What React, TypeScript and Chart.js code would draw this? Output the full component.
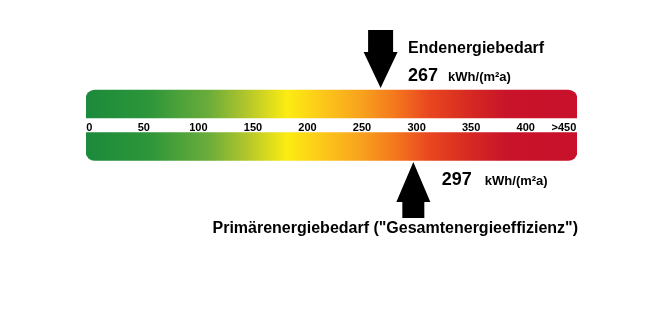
import React, { useEffect, useRef } from "react";
import { Chart, registerables } from "chart.js";

Chart.register(...registerables);

const scaleMin = -3;
const scaleMax = 447;
const bandRows = ["oben", "unten"];
const bandSpan: [number, number] = [scaleMin, scaleMax];
const tickValues = [0, 50, 100, 150, 200, 250, 300, 350, 400, 435];
const tickLabels = ["0", "50", "100", "150", "200", "250", "300", "350", "400", ">450"];
const endenergieValue = 267;
const primaerenergieValue = 297;
const unitLabel = "kWh/(m²a)";
const endLabel = "Endenergiebedarf";
const primLabel = 'Primärenergiebedarf ("Gesamtenergieeffizienz")';
const gradientStops = [0, 0.13, 0.25, 0.33, 0.41, 0.48, 0.56, 0.63, 0.7, 0.78, 0.86, 1];
const gradientColors = [
  "#1b8a3b",
  "#2e963a",
  "#6aad3a",
  "#b5c72a",
  "#fcec12",
  "#fcc91a",
  "#f8a21d",
  "#f4771d",
  "#e9461f",
  "#d62a22",
  "#c8132a",
  "#c8102a",
];

const FONT = "'Liberation Sans', Arial, Helvetica, sans-serif";

const overlayPlugin = {
  id: "energyOverlay",
  afterDatasetsDraw(chart: any) {
    const ctx = chart.ctx as CanvasRenderingContext2D;
    const xs = chart.scales.x;
    const meta = chart.getDatasetMeta(0);
    const top = meta.data[0];
    const bot = meta.data[1];
    const topBarTop = top.y - top.height / 2;
    const topBarBottom = top.y + top.height / 2;
    const botBarTop = bot.y - bot.height / 2;
    const botBarBottom = bot.y + bot.height / 2;
    const bandMid = (topBarBottom + botBarTop) / 2;

    ctx.save();
    // tick labels
    ctx.fillStyle = "#000";
    ctx.font = `bold 11px ${FONT}`;
    ctx.textAlign = "center";
    ctx.textBaseline = "alphabetic";
    tickValues.forEach((v, i) => {
      ctx.fillText(tickLabels[i], xs.getPixelForValue(v), bandMid + 5.5);
    });

    // down arrow (Endenergie)
    const xd = xs.getPixelForValue(endenergieValue);
    const tipD = topBarTop - 2;
    ctx.beginPath();
    ctx.moveTo(xd - 12.5, 30);
    ctx.lineTo(xd + 12.5, 30);
    ctx.lineTo(xd + 12.5, 52);
    ctx.lineTo(xd + 17, 52);
    ctx.lineTo(xd, tipD);
    ctx.lineTo(xd - 17, 52);
    ctx.lineTo(xd - 12.5, 52);
    ctx.closePath();
    ctx.fillStyle = "#000";
    ctx.fill();

    // up arrow (Primärenergie)
    const xu = xs.getPixelForValue(primaerenergieValue);
    const tipU = botBarBottom + 1.5;
    ctx.beginPath();
    ctx.moveTo(xu, tipU);
    ctx.lineTo(xu + 17, 202);
    ctx.lineTo(xu + 11, 202);
    ctx.lineTo(xu + 11, 218);
    ctx.lineTo(xu - 11, 218);
    ctx.lineTo(xu - 11, 202);
    ctx.lineTo(xu - 17, 202);
    ctx.closePath();
    ctx.fill();

    // texts
    ctx.textAlign = "left";
    ctx.font = `bold 16px ${FONT}`;
    ctx.fillText(endLabel, xd + 27.5, 53);
    ctx.font = `bold 18px ${FONT}`;
    ctx.fillText(String(endenergieValue), xd + 27.5, 81);
    ctx.font = `bold 13px ${FONT}`;
    ctx.fillText(unitLabel, xd + 67.5, 81);

    ctx.font = `bold 18px ${FONT}`;
    ctx.fillText(String(primaerenergieValue), xu + 28.5, 185);
    ctx.font = `bold 13px ${FONT}`;
    ctx.fillText(unitLabel, xu + 71.5, 185);

    ctx.font = `bold 16px ${FONT}`;
    ctx.textAlign = "right";
    ctx.fillText(primLabel, chart.chartArea.right + 1, 233);
    ctx.restore();
  },
};

export default function App() {
  const canvasRef = useRef<HTMLCanvasElement | null>(null);

  useEffect(() => {
    if (!canvasRef.current) return;
    const chart = new Chart(canvasRef.current, {
      type: "bar",
      data: {
        labels: bandRows,
        datasets: [
          {
            data: bandRows.map(() => bandSpan) as any,
            backgroundColor: (c: any) => {
              const area = c.chart.chartArea;
              if (!area) return gradientColors[0];
              const g = c.chart.ctx.createLinearGradient(area.left, 0, area.right, 0);
              gradientStops.forEach((s, i) => g.addColorStop(s, gradientColors[i]));
              return g;
            },
            borderWidth: 0,
            borderSkipped: false,
            borderRadius: (c: any) =>
              c.dataIndex === 0
                ? { topLeft: 9, topRight: 9, bottomLeft: 0, bottomRight: 0 }
                : { topLeft: 0, topRight: 0, bottomLeft: 9, bottomRight: 9 },
            barThickness: 28,
          } as any,
        ],
      },
      options: {
        indexAxis: "y",
        animation: false,
        responsive: false,
        maintainAspectRatio: false,
        layout: { padding: { left: 86, right: 79, top: 82.75, bottom: 146.25 } },
        scales: {
          x: { type: "linear", min: scaleMin, max: scaleMax, display: false },
          y: { display: false },
        },
        plugins: {
          legend: { display: false },
          tooltip: { enabled: false },
        },
      },
      plugins: [overlayPlugin],
    });
    return () => chart.destroy();
  }, []);

  return (
    <div style={{ position: "fixed", left: 0, top: 0, width: 656, height: 314, background: "#fff" }}>
      <canvas ref={canvasRef} width={656} height={314} style={{ width: 656, height: 314, display: "block" }} />
    </div>
  );
}
